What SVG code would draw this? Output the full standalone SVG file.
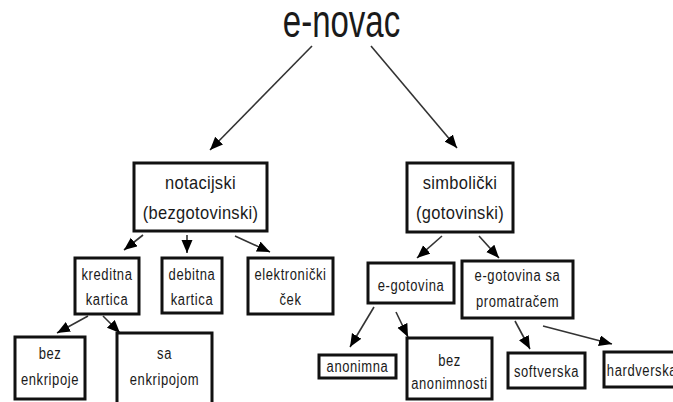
<svg xmlns="http://www.w3.org/2000/svg" width="673" height="402" viewBox="0 0 673 402">
<style>
.box{fill:#fff;stroke:#111;stroke-width:3}
.t{font-family:"Liberation Sans",Arial,sans-serif;fill:#1a1a1a;text-anchor:middle}
.big{font-size:16.5px;letter-spacing:0.3px}
.sm{font-size:13px;letter-spacing:0.6px}
.con line{stroke:#333;stroke-width:1.6;marker-end:url(#ah)}
</style>
<defs>
<marker id="ah" markerUnits="userSpaceOnUse" markerWidth="14" markerHeight="12" refX="13" refY="5.5" orient="auto">
<path d="M0,0 L13,5.5 L0,11 z" fill="#000"/>
</marker>
</defs>
<rect width="673" height="402" fill="#fff"/>
<g id="connectors" class="con">
<line x1="312" y1="46" x2="210" y2="150"/>
<line x1="371" y1="46" x2="457" y2="148"/>
<line x1="143" y1="235" x2="124" y2="250"/>
<line x1="187" y1="235" x2="187" y2="253"/>
<line x1="235" y1="236" x2="270" y2="252"/>
<line x1="442" y1="236" x2="417" y2="258"/>
<line x1="479" y1="236" x2="499" y2="258"/>
<line x1="88" y1="316" x2="57" y2="333"/>
<line x1="103" y1="316" x2="120" y2="333"/>
<line x1="374" y1="307" x2="350" y2="347"/>
<line x1="396" y1="312" x2="408" y2="337"/>
<line x1="515" y1="321" x2="530" y2="349"/>
<line x1="543" y1="326" x2="612" y2="344"/>
</g>
<g id="root">
<text class="t" font-size="33" transform="translate(341.5 37) scale(1 1.4)">e-novac</text>
</g>
<g id="notacijski">
<rect class="box" x="134" y="163" width="133" height="68"/>
<text class="t big" transform="translate(200.5 189) scale(1 1.15)">notacijski</text>
<text class="t big" transform="translate(200.5 219) scale(1 1.15)">(bezgotovinski)</text>
</g>
<g id="simbolicki">
<rect class="box" x="407" y="163" width="106" height="69"/>
<text class="t big" transform="translate(460 189) scale(1 1.15)">simbolički</text>
<text class="t big" transform="translate(460 219) scale(1 1.15)">(gotovinski)</text>
</g>
<g id="kreditna">
<rect class="box" x="75" y="258" width="64" height="56"/>
<text class="t sm" transform="translate(107 280) scale(1 1.2)">kreditna</text>
<text class="t sm" transform="translate(107 305) scale(1 1.2)">kartica</text>
</g>
<g id="debitna">
<rect class="box" x="162" y="258" width="60" height="55"/>
<text class="t sm" transform="translate(192 280) scale(1 1.2)">debitna</text>
<text class="t sm" transform="translate(192 305) scale(1 1.2)">kartica</text>
</g>
<g id="elektronicki">
<rect class="box" x="248" y="258" width="85" height="56"/>
<text class="t sm" transform="translate(290.5 280) scale(1 1.2)">elektronički</text>
<text class="t sm" transform="translate(290.5 305) scale(1 1.2)">ček</text>
</g>
<g id="bez-enkripcije">
<rect class="box" x="15" y="337" width="70" height="62"/>
<text class="t sm" transform="translate(50 359) scale(1 1.2)">bez</text>
<text class="t sm" transform="translate(50 385) scale(1 1.2)">enkripoje</text>
</g>
<g id="sa-enkripcijom">
<rect class="box" x="117" y="333" width="95" height="72"/>
<text class="t sm" transform="translate(164.5 359) scale(1 1.2)">sa</text>
<text class="t sm" transform="translate(164.5 385) scale(1 1.2)">enkripojom</text>
</g>
<g id="e-gotovina">
<rect class="box" x="368" y="263" width="86" height="40"/>
<text class="t sm" transform="translate(411 291) scale(1 1.2)">e-gotovina</text>
</g>
<g id="promatrac">
<rect class="box" x="462" y="261" width="111" height="57"/>
<text class="t sm" transform="translate(517.5 281) scale(1 1.2)">e-gotovina sa</text>
<text class="t sm" transform="translate(517.5 307) scale(1 1.2)">promatračem</text>
</g>
<g id="anonimna">
<rect class="box" x="319" y="355" width="77" height="23"/>
<text class="t sm" transform="translate(357.5 372) scale(1 1.2)">anonimna</text>
</g>
<g id="bez-anonimnosti">
<rect class="box" x="407" y="338" width="85" height="61"/>
<text class="t sm" transform="translate(449.5 366) scale(1 1.2)">bez</text>
<text class="t sm" transform="translate(449.5 389) scale(1 1.2)">anonimnosti</text>
</g>
<g id="softverska">
<rect class="box" x="508" y="353" width="77" height="35"/>
<text class="t sm" transform="translate(546.5 377) scale(1 1.2)">softverska</text>
</g>
<g id="hardverska">
<rect class="box" x="604" y="352" width="78" height="35"/>
<text class="t sm" transform="translate(642 376) scale(1 1.2)">hardverska</text>
</g>
</svg>
